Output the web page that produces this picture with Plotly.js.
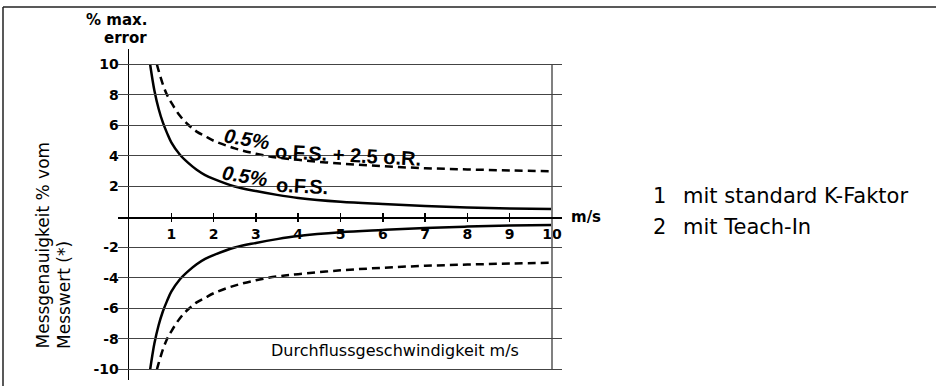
<!DOCTYPE html>
<html>
<head>
<meta charset="utf-8">
<script src="https://cdn.plot.ly/plotly-3.0.1.min.js"></script>
<style>
  html, body { margin: 0; padding: 0; background: #fff; }
  #chart { width: 936px; height: 386px; }
</style>
</head>
<body>
<div id="chart"></div>
<script>
// ---- Data ----
// Flow speed (m/s) sample points
const speedTeachIn = [0.5, 0.55, 0.6, 0.7, 0.8, 0.9, 1.0, 1.2, 1.4, 1.6, 1.8, 2.0, 2.5, 3.0, 3.5, 4.0, 5.0, 6.0, 7.0, 8.0, 9.0, 10.0];
// "0.5% o.F.S." (2 mit Teach-In) - solid curves, % max. error
const errTeachInUpper = [10.0, 9.1, 8.3, 7.1, 6.2, 5.5, 4.9, 4.1, 3.55, 3.1, 2.75, 2.5, 2.0, 1.7, 1.45, 1.25, 1.0, 0.85, 0.72, 0.63, 0.56, 0.52];
const errTeachInLower = [-10.0, -9.1, -8.3, -7.1, -6.2, -5.5, -4.9, -4.1, -3.55, -3.1, -2.75, -2.5, -2.0, -1.7, -1.45, -1.25, -1.0, -0.85, -0.72, -0.63, -0.56, -0.52];

const speedStandard = [0.66, 0.7, 0.8, 0.9, 1.0, 1.2, 1.4, 1.6, 1.8, 2.0, 2.5, 3.0, 3.5, 4.0, 5.0, 6.0, 7.0, 8.0, 9.0, 10.0];
// "0.5% o.F.S. + 2.5 o.R." (1 mit standard K-Faktor) - dashed curves
const errStandardUpper = [10.0, 9.6, 8.7, 8.0, 7.5, 6.65, 6.05, 5.6, 5.3, 5.0, 4.5, 4.15, 3.9, 3.75, 3.5, 3.33, 3.2, 3.12, 3.05, 3.0];
const errStandardLower = [-10.0, -9.6, -8.7, -8.0, -7.5, -6.65, -6.05, -5.6, -5.3, -5.0, -4.5, -4.15, -3.9, -3.75, -3.5, -3.33, -3.2, -3.12, -3.05, -3.0];

// Tick labels
const xTickVals = [1, 2, 3, 4, 5, 6, 7, 8, 9, 10];
const xTickText = ['1', '2', '3', '4', '5', '6', '7', '8', '9', '10'];
const yTickVals = [10, 8, 6, 4, 2, -2, -4, -6, -8, -10];
const yTickText = ['10', '8', '6', '4', '2', '-2', '-4', '-6', '-8', '-10'];

// Texts
const yTitleLines = ['Messgenauigkeit % vom', 'Messwert (*)'];
const yUnitLines = ['% max.', 'error'];
const xTitleText = 'Durchflussgeschwindigkeit m/s';
const xUnitText = 'm/s';
const legendNums = ['1', '2'];
const legendLabels = ['mit standard K-Faktor', 'mit Teach-In'];

// ---- Layout helpers (pixel -> paper fraction) ----
const W = 936, H = 386;
const px = v => v / W;
const py = v => 1 - v / H;

const boldTick = { family: 'DejaVu Sans', size: 14, weight: 'bold', color: '#000' };
const curveLine = { color: '#000', width: 2.5, shape: 'spline' };

const traces = [
  { x: speedStandard, y: errStandardUpper, mode: 'lines', line: Object.assign({}, curveLine, { dash: '8px,5px' }), hoverinfo: 'skip', showlegend: false },
  { x: speedStandard, y: errStandardLower, mode: 'lines', line: Object.assign({}, curveLine, { dash: '8px,5px' }), hoverinfo: 'skip', showlegend: false },
  { x: speedTeachIn, y: errTeachInUpper, mode: 'lines', line: curveLine, hoverinfo: 'skip', showlegend: false },
  { x: speedTeachIn, y: errTeachInLower, mode: 'lines', line: curveLine, hoverinfo: 'skip', showlegend: false },
  // empty traces that only carry the helper axes
  { x: [], y: [], xaxis: 'x2', yaxis: 'y', hoverinfo: 'skip', showlegend: false },
  { x: [], y: [], xaxis: 'x3', yaxis: 'y', hoverinfo: 'skip', showlegend: false },
  { x: [], y: [], xaxis: 'x', yaxis: 'y3', hoverinfo: 'skip', showlegend: false }
];

const zeroPos = py(217);
const hidden = { showline: false, showgrid: false, zeroline: false, ticks: '', showticklabels: false, fixedrange: true };

const annFont = (size, extra) => Object.assign({ family: 'DejaVu Sans', size: size, color: '#000' }, extra || {});
const ann = (text, x, y, xanchor, font, extra) => Object.assign({
  text: text, xref: 'paper', yref: 'paper', x: px(x), y: py(y),
  xanchor: xanchor, yanchor: 'middle', showarrow: false, font: font
}, extra || {});

const curveFont = { family: 'Liberation Sans', size: 20, weight: 'bold', color: '#000' };
const curveFontIt = { family: 'Liberation Sans', size: 20, weight: 'bold', style: 'italic', color: '#000' };

const annotations = [
  ann(yUnitLines[0], 149, 20, 'right', annFont(15, { weight: 'bold' })),
  ann(yUnitLines[1], 149, 38, 'right', annFont(15, { weight: 'bold' })),
  ann(yTitleLines[0], 42, 351, 'center', annFont(17), { textangle: -90, yanchor: 'bottom' }),
  ann(yTitleLines[1], 64, 351, 'center', annFont(17), { textangle: -90, yanchor: 'bottom' }),
  ann(xTitleText, 395, 350, 'center', annFont(16)),
  ann(xUnitText, 569, 217, 'left', annFont(15, { weight: 'bold' })),
  ann(legendNums[0], 651, 196, 'left', annFont(21)),
  ann(legendLabels[0], 681, 196, 'left', annFont(21)),
  ann(legendNums[1], 651, 227, 'left', annFont(21)),
  ann(legendLabels[1], 681, 227, 'left', annFont(21)),
  ann('0.5%', 247, 139, 'center', curveFontIt, { textangle: 9 }),
  ann('o.F.S. + 2.5 o.R.', 348, 155, 'center', curveFont, { textangle: 3 }),
  ann('0.5%', 245, 176, 'center', curveFontIt, { textangle: 9 }),
  ann('o.F.S.', 302, 186, 'center', curveFont, { textangle: 3 })
];

const layout = {
  width: W, height: H,
  margin: { l: 0, r: 0, t: 0, b: 0, pad: 0 },
  paper_bgcolor: '#fff',
  plot_bgcolor: 'rgba(0,0,0,0)',
  showlegend: false,
  xaxis: {
    domain: [px(129), px(552)], range: [0, 10], anchor: 'free', position: zeroPos,
    showline: false, showgrid: false, zeroline: false,
    ticks: 'outside', ticklen: 4, tickwidth: 1.5, tickcolor: '#000',
    tickmode: 'array', tickvals: xTickVals, ticktext: xTickText,
    tickfont: boldTick, ticklabelstandoff: 0, fixedrange: true
  },
  xaxis3: Object.assign({}, hidden, {
    overlaying: 'x', range: [0, 10], anchor: 'free', position: zeroPos,
    ticks: 'inside', ticklen: 4, tickwidth: 1.5, tickcolor: '#000',
    tickmode: 'array', tickvals: xTickVals
  }),
  xaxis2: Object.assign({}, hidden, {
    domain: [px(118), px(562)], range: [0, 1], anchor: 'free', position: zeroPos,
    showline: true, linecolor: '#000', linewidth: 1.5
  }),
  yaxis: {
    domain: [py(380), py(49)], range: [-10.689, 11.016], anchor: 'x',
    showline: true, linecolor: '#000', linewidth: 1.5,
    zeroline: false, showgrid: true, gridcolor: '#444', gridwidth: 1,
    ticks: '', tickmode: 'array', tickvals: yTickVals, ticktext: yTickText,
    tickfont: boldTick, ticklabelstandoff: 6, fixedrange: true
  },
  yaxis3: Object.assign({}, hidden, {
    domain: [py(370), py(64)], range: [0, 1], anchor: 'free', position: px(552),
    showline: true, linecolor: '#808080', linewidth: 2
  }),
  annotations: annotations,
  shapes: [
    { type: 'line', xref: 'paper', yref: 'paper', x0: px(3), x1: px(3), y0: -0.05, y1: py(7), line: { color: '#222', width: 1.5 } },
    { type: 'line', xref: 'paper', yref: 'paper', x0: px(3), x1: 1.05, y0: py(7), y1: py(7), line: { color: '#222', width: 1.5 } }
  ]
};

Plotly.newPlot('chart', traces, layout, { displayModeBar: false, staticPlot: true });
</script>
</body>
</html>
